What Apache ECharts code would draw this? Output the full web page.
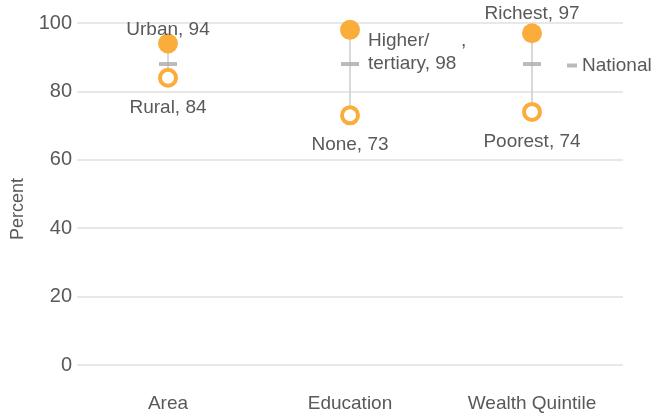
<!DOCTYPE html>
<html>
<head>
<meta charset="utf-8">
<script src="https://cdn.jsdelivr.net/npm/echarts@6/dist/echarts.min.js"></script>
<style>
  html, body { margin: 0; padding: 0; background: #fff; }
  #chart { width: 667px; height: 416px; }
</style>
</head>
<body>
<div id="chart"></div>
<script>
var categories = ['Area', 'Education', 'Wealth Quintile'];
var highNames = ['Urban', 'Higher/      ,\ntertiary', 'Richest'];
var highValues = [94, 98, 97];
var lowNames = ['Rural', 'None', 'Poorest'];
var lowValues = [84, 73, 74];
var nationalValues = [88, 88, 88];

var orange = '#FBAD3C';
var textColor = '#595959';
var font = 'Liberation Sans';

var myChart = echarts.init(document.getElementById('chart'));

var highLabels = [
  {position: 'top', distance: -8},
  {position: 'right', distance: 8, offset: [0, 22], align: 'left'},
  {position: 'top', distance: -2}
];
var lowLabels = [
  {distance: 11},
  {distance: 10},
  {distance: 10}
];

var option = {
  animation: false,
  textStyle: {fontFamily: font},
  grid: {left: 77, right: 44, top: 23, bottom: 51},
  legend: {
    data: ['National'],
    left: 562,
    top: 51,
    icon: 'rect',
    itemWidth: 10,
    itemHeight: 4,
    itemGap: 4,
    textStyle: {fontSize: 19, color: textColor, fontFamily: font}
  },
  xAxis: {
    type: 'category',
    data: categories,
    axisLine: {show: false},
    axisTick: {show: false},
    axisLabel: {fontSize: 19, color: textColor, margin: 29}
  },
  yAxis: {
    type: 'value',
    min: 0,
    max: 100,
    interval: 20,
    name: 'Percent',
    nameLocation: 'middle',
    nameGap: 50,
    nameTextStyle: {fontSize: 18, color: textColor, padding: [0, 30, 0, 0]},
    axisLine: {show: false},
    axisTick: {show: false},
    axisLabel: {fontSize: 20, color: textColor, margin: 5},
    splitLine: {lineStyle: {color: '#e0e0e0', width: 1.5}}
  },
  series: [
    {
      name: 'range',
      type: 'custom',
      z: 1,
      data: categories.map(function (c, i) { return [i, lowValues[i], highValues[i]]; }),
      renderItem: function (params, api) {
        var a = api.coord([api.value(0), api.value(1)]);
        var b = api.coord([api.value(0), api.value(2)]);
        return {
          type: 'line',
          shape: {x1: a[0], y1: a[1], x2: b[0], y2: b[1]},
          style: {stroke: '#cccccc', lineWidth: 1.5}
        };
      }
    },
    {
      name: 'National',
      type: 'scatter',
      z: 2,
      symbol: 'rect',
      symbolSize: [18, 4],
      itemStyle: {color: '#aaaaaa'},
      data: nationalValues
    },
    {
      name: 'High',
      type: 'scatter',
      z: 3,
      symbolSize: 20,
      itemStyle: {color: orange, opacity: 1},
      label: {show: true, fontSize: 19, color: textColor, lineHeight: 23},
      data: highValues.map(function (v, i) {
        return {value: v, label: Object.assign({formatter: highNames[i] + ', ' + v}, highLabels[i])};
      })
    },
    {
      name: 'Low',
      type: 'scatter',
      z: 3,
      symbol: 'circle',
      symbolSize: 16,
      itemStyle: {color: '#ffffff', borderColor: orange, borderWidth: 4, opacity: 1},
      label: {show: true, position: 'bottom', fontSize: 19, color: textColor},
      data: lowValues.map(function (v, i) {
        return {value: v, label: Object.assign({formatter: lowNames[i] + ', ' + v}, lowLabels[i])};
      })
    }
  ]
};

myChart.setOption(option);
</script>
</body>
</html>
